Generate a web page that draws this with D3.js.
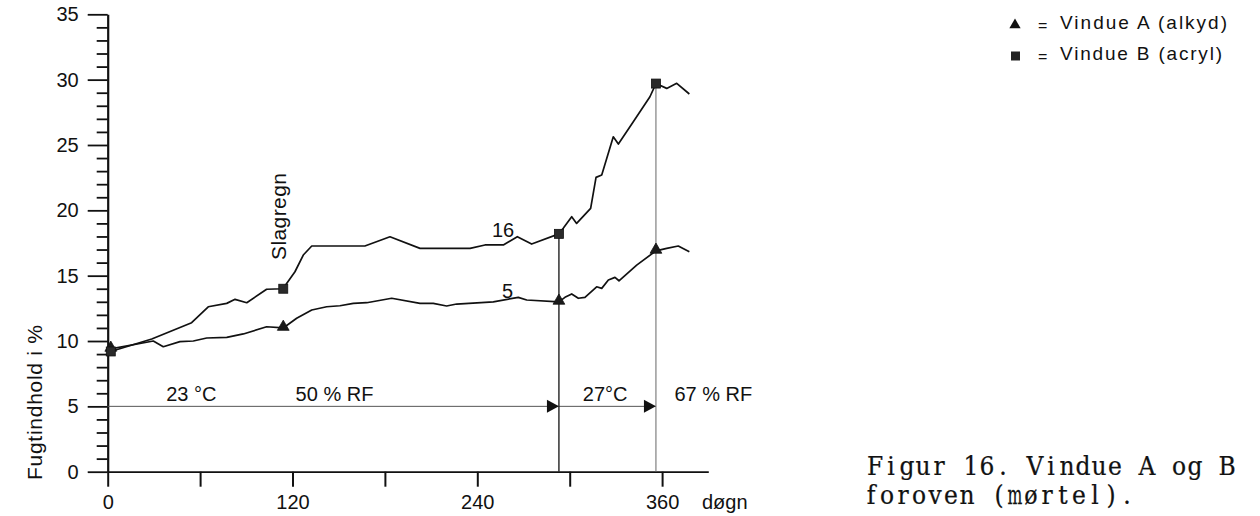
<!DOCTYPE html>
<html>
<head>
<meta charset="utf-8">
<script src="https://cdn.jsdelivr.net/npm/d3@7"></script>
<style>
  html, body { margin: 0; padding: 0; background: #fff; }
  svg { display: block; }
  .sans { font-family: "Liberation Sans", Arial, Helvetica, sans-serif; fill: #111; }
  .type { font-family: "DejaVu Serif", "Liberation Serif", serif; fill: #111; }
</style>
</head>
<body>
<svg id="chart" width="1260" height="516"></svg>
<script>
// Vindue A (alkyd): moisture content (%) against time (days)
const daysA   = [2, 29.6, 36.1, 46.9, 55.6, 64.3, 77.3, 88.1, 103.2, 114, 122.7, 132.5, 142.2, 150.8, 159.5, 168.2, 184.4, 202.8, 211.4, 220.1, 226.6, 250.4, 266.6, 272.1, 293, 296.9, 301.3, 305.6, 309.9, 317.5, 320.8, 325.1, 329.4, 332, 343.5, 356, 363, 370.5, 377.7];
const valuesA = [9.4, 10.0, 9.56, 9.95, 10.0, 10.23, 10.28, 10.54, 11.09, 11.0, 11.74, 12.37, 12.62, 12.7, 12.88, 12.93, 13.27, 12.88, 12.88, 12.68, 12.83, 13.0, 13.34, 13.14, 13.0, 13.34, 13.6, 13.27, 13.34, 14.15, 14.03, 14.67, 14.87, 14.61, 15.81, 16.9, 17.09, 17.27, 16.83];

// Vindue B (acryl)
const daysB   = [2, 28.6, 54.5, 65.3, 77.3, 82.7, 90.3, 103.2, 114, 116.2, 121.6, 127, 132.5, 167, 183.3, 202.8, 235.3, 245, 256.9, 266, 275.3, 293, 295.8, 301.3, 304.5, 313.6, 317.1, 320.8, 328.3, 331.6, 341.3, 352.1, 356, 363, 369.5, 377.7];
const valuesB = [9.2, 10.15, 11.4, 12.62, 12.88, 13.19, 12.93, 13.96, 14.0, 14.41, 15.3, 16.58, 17.27, 17.27, 17.98, 17.09, 17.09, 17.35, 17.35, 17.98, 17.42, 18.2, 18.62, 19.51, 19.0, 20.15, 22.52, 22.7, 25.63, 25.07, 26.78, 28.69, 29.7, 29.33, 29.72, 28.9];

// days at which the measuring points are marked
const markerDays = [2, 114, 293, 356];

// climate periods: ends of each period (days) and their labels
const phaseEnds   = [293, 356];
const phaseLevel  = 5;
const phaseLabels = ["23 °C", "50 % RF", "27°C", "67 % RF"];
const phaseLabelDays = [38, 122, 308.5, 368];

// axis ticks
const yMajorTicks = [0, 5, 10, 15, 20, 25, 30, 35];
const xTicks      = [0, 60, 120, 180, 240, 300, 360];
const xLabelled   = [0, 120, 240, 360];

const svg = d3.select("#chart");
const x = d3.scaleLinear().domain([0, 390]).range([107.7, 708.3]);
const y = d3.scaleLinear().domain([0, 35]).range([471.7, 14.3]);

const valueAt = (days, vals, d) => vals[days.indexOf(d)];
const FS = 20;

// ---- y axis: labelled ticks every 5 %, short ticks every 1 %
const yMinor = d3.axisLeft(y)
  .tickValues(d3.range(0, 36, 1).filter(v => v % 5 !== 0))
  .tickSize(11).tickSizeOuter(0).tickFormat("");
const gyMinor = svg.append("g").attr("transform", `translate(${x(0)},0)`).call(yMinor);
gyMinor.select(".domain").remove();
gyMinor.selectAll("line").attr("stroke", "#111").attr("stroke-width", 1.8);

const yMajor = d3.axisLeft(y).tickValues(yMajorTicks).tickSize(20).tickPadding(9).tickSizeOuter(0);
const gy = svg.append("g").attr("transform", `translate(${x(0)},0)`).call(yMajor);
gy.select(".domain").attr("stroke", "#111").attr("stroke-width", 2.2);
gy.selectAll("line").attr("stroke", "#111").attr("stroke-width", 1.8);
gy.selectAll("text").attr("class", "sans").attr("font-size", FS).attr("fill", "#111");

// ---- x axis
const xAxis = d3.axisBottom(x).tickValues(xTicks).tickSize(15).tickSizeOuter(0)
  .tickFormat(d => xLabelled.includes(d) ? d : "");
const gx = svg.append("g").attr("transform", `translate(0,${y(0)})`).call(xAxis);
gx.select(".domain").attr("stroke", "#111").attr("stroke-width", 1.8);
gx.selectAll("line").attr("stroke", "#111").attr("stroke-width", 2);
gx.selectAll("text").attr("class", "sans").attr("font-size", FS).attr("fill", "#111")
  .attr("dy", null).attr("y", 37);

svg.append("text").attr("class", "sans").attr("font-size", FS)
  .attr("x", 702).attr("y", y(0) + 37).text("døgn");

svg.append("text").attr("class", "sans").attr("font-size", 21)
  .attr("transform", `translate(42,480) rotate(-90)`)
  .attr("textLength", 155).attr("lengthAdjust", "spacing")
  .text("Fugtindhold i %");

// ---- climate period line with arrows
svg.append("line")
  .attr("x1", x(0)).attr("x2", x(phaseEnds[1]))
  .attr("y1", y(phaseLevel)).attr("y2", y(phaseLevel))
  .attr("stroke", "#555").attr("stroke-width", 1);

phaseEnds.forEach(d => {
  const tx = x(d), ty = y(phaseLevel);
  svg.append("path")
    .attr("d", `M${tx},${ty} L${tx - 12},${ty - 6.5} L${tx - 12},${ty + 6.5} Z`)
    .attr("fill", "#111");
});

// vertical lines at the period changes
phaseEnds.forEach((d, i) => {
  svg.append("line")
    .attr("x1", x(d)).attr("x2", x(d))
    .attr("y1", y(valueAt(daysB, valuesB, d))).attr("y2", y(0))
    .attr("stroke", i === 0 ? "#222" : "#666").attr("stroke-width", i === 0 ? 1.4 : 1);
});

phaseLabels.forEach((t, i) => {
  svg.append("text").attr("class", "sans").attr("font-size", FS)
    .attr("x", x(phaseLabelDays[i])).attr("y", y(phaseLevel) - 5).text(t);
});

// ---- curves
const line = d3.line().x(d => x(d[0])).y(d => y(d[1]));
const seriesA = daysA.map((d, i) => [d, valuesA[i]]);
const seriesB = daysB.map((d, i) => [d, valuesB[i]]);

[seriesB, seriesA].forEach(s => {
  svg.append("path").datum(s).attr("d", line)
    .attr("fill", "none").attr("stroke", "#111")
    .attr("stroke-width", 1.7).attr("stroke-linejoin", "round");
});

// markers: squares for B, triangles for A
const tri = d3.symbol().type(d3.symbolTriangle).size(60);
svg.selectAll(".mA").data(markerDays).join("path")
  .attr("transform", d => `translate(${x(d)},${y(valueAt(daysA, valuesA, d)) - 1})`)
  .attr("d", tri).attr("fill", "#1a1a1a").attr("stroke", "#111").attr("stroke-width", 0.8);

svg.selectAll(".mB").data(markerDays).join("rect")
  .attr("x", d => x(d) - 4.5).attr("y", d => y(valueAt(daysB, valuesB, d)) - 4.5)
  .attr("width", 9).attr("height", 9)
  .attr("fill", "#2a2a2a").attr("stroke", "#111").attr("stroke-width", 0.8);

// curve labels
svg.append("text").attr("class", "sans").attr("font-size", FS)
  .attr("x", 492).attr("y", 237).text("16");
svg.append("text").attr("class", "sans").attr("font-size", FS)
  .attr("x", 502).attr("y", 298).text("5");

// event label
svg.append("text").attr("class", "sans").attr("font-size", 21)
  .attr("transform", `translate(286,260) rotate(-90)`)
  .attr("textLength", 87).attr("lengthAdjust", "spacing")
  .text("Slagregn");

// ---- legend
const legend = svg.append("g");
legend.append("path")
  .attr("transform", "translate(1015,25)")
  .attr("d", d3.symbol().type(d3.symbolTriangle).size(55))
  .attr("fill", "#111");
legend.append("rect").attr("x", 1011).attr("y", 51.5).attr("width", 9).attr("height", 9)
  .attr("fill", "#222");
[["Vindue A (alkyd)", 29, 167], ["Vindue B (acryl)", 60, 162]].forEach(([t, by, len]) => {
  legend.append("text").attr("class", "sans").attr("font-size", 16)
    .attr("x", 1038).attr("y", by + 2).text("=");
  legend.append("text").attr("class", "sans").attr("font-size", 19)
    .attr("x", 1060).attr("y", by)
    .attr("textLength", len).attr("lengthAdjust", "spacing").text(t);
});

// ---- figure caption, set character by character on a fixed typewriter pitch
const pitch = 16;
const wideGlyphs = { m: 0.6, M: 0.65, w: 0.7, W: 0.65, "ø": 0.85 };
function typewriter(str, left, baseline) {
  const g = svg.append("g").attr("transform", `translate(${left},${baseline})`);
  Array.from(str).forEach((c, i) => {
    if (c === " ") return;
    const s = wideGlyphs[c] || 0.9;
    g.append("text").attr("class", "type").attr("font-size", 26)
      .attr("text-anchor", "middle")
      .attr("stroke", "#111").attr("stroke-width", 0.25)
      .attr("transform", `translate(${(i + 0.5) * pitch},0) scale(${s},1)`)
      .text(c);
  });
}
typewriter("Figur 16. Vindue A og B", 867, 474.5);
typewriter("foroven (mørtel).", 863, 504);
</script>
</body>
</html>
